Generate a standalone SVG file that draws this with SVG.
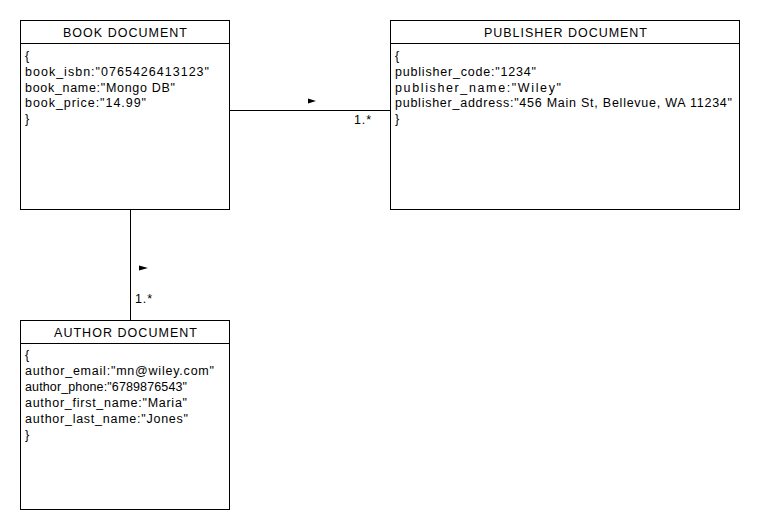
<svg xmlns="http://www.w3.org/2000/svg" width="760" height="530" viewBox="0 0 760 530">
<style>
.box{fill:#fff;stroke:#000;stroke-width:1}
.t{font-family:"Liberation Sans",Arial,sans-serif;font-size:12.5px;fill:#000}
.h{text-anchor:middle}
.c{stroke:#000;stroke-width:1;fill:none}
.ah{fill:#000}
</style>
<rect width="760" height="530" fill="#fff"/>
<g id="connectors">
<line class="c" x1="229.5" y1="110.5" x2="390.5" y2="110.5"/>
<polygon class="ah" points="308,98.5 316,101 308,103.5"/>
<text class="t" x="354" y="124" textLength="17" lengthAdjust="spacing">1.*</text>
<line class="c" x1="130.5" y1="209.5" x2="130.5" y2="320.5"/>
<polygon class="ah" points="139,265.5 148,268 139,270.5"/>
<text class="t" x="135" y="303" textLength="17" lengthAdjust="spacing">1.*</text>
</g>
<g id="book">
<rect class="box" x="20.5" y="20.5" width="209" height="189"/>
<line class="c" x1="20.5" y1="43.5" x2="229.5" y2="43.5"/>
<text class="t" x="63" y="37" textLength="124" lengthAdjust="spacing">BOOK DOCUMENT</text>
<text class="t" x="25" y="60">{</text>
<text class="t" x="25" y="76" textLength="184" lengthAdjust="spacing">book_isbn:"0765426413123"</text>
<text class="t" x="25" y="91.5" textLength="150" lengthAdjust="spacing">book_name:"Mongo DB"</text>
<text class="t" x="25" y="107" textLength="121" lengthAdjust="spacing">book_price:"14.99"</text>
<text class="t" x="25" y="123">}</text>
</g>
<g id="publisher">
<rect class="box" x="390.5" y="20.5" width="349" height="189"/>
<line class="c" x1="390.5" y1="43.5" x2="739.5" y2="43.5"/>
<text class="t" x="484" y="37" textLength="163" lengthAdjust="spacing">PUBLISHER DOCUMENT</text>
<text class="t" x="395" y="60">{</text>
<text class="t" x="395" y="76" textLength="141" lengthAdjust="spacing">publisher_code:"1234"</text>
<text class="t" x="395" y="91.5" textLength="166" lengthAdjust="spacing">publisher_name:"Wiley"</text>
<text class="t" x="395" y="107" textLength="337" lengthAdjust="spacing">publisher_address:"456 Main St, Bellevue, WA 11234"</text>
<text class="t" x="395" y="123">}</text>
</g>
<g id="author">
<rect class="box" x="20.5" y="320.5" width="209" height="189"/>
<line class="c" x1="20.5" y1="343.5" x2="229.5" y2="343.5"/>
<text class="t" x="54" y="337" textLength="143" lengthAdjust="spacing">AUTHOR DOCUMENT</text>
<text class="t" x="25" y="359">{</text>
<text class="t" x="25" y="375" textLength="189" lengthAdjust="spacing">author_email:"mn@wiley.com"</text>
<text class="t" x="25" y="391" textLength="162" lengthAdjust="spacing">author_phone:"6789876543"</text>
<text class="t" x="25" y="407" textLength="162" lengthAdjust="spacing">author_first_name:"Maria"</text>
<text class="t" x="25" y="423" textLength="163" lengthAdjust="spacing">author_last_name:"Jones"</text>
<text class="t" x="25" y="439">}</text>
</g>
</svg>
